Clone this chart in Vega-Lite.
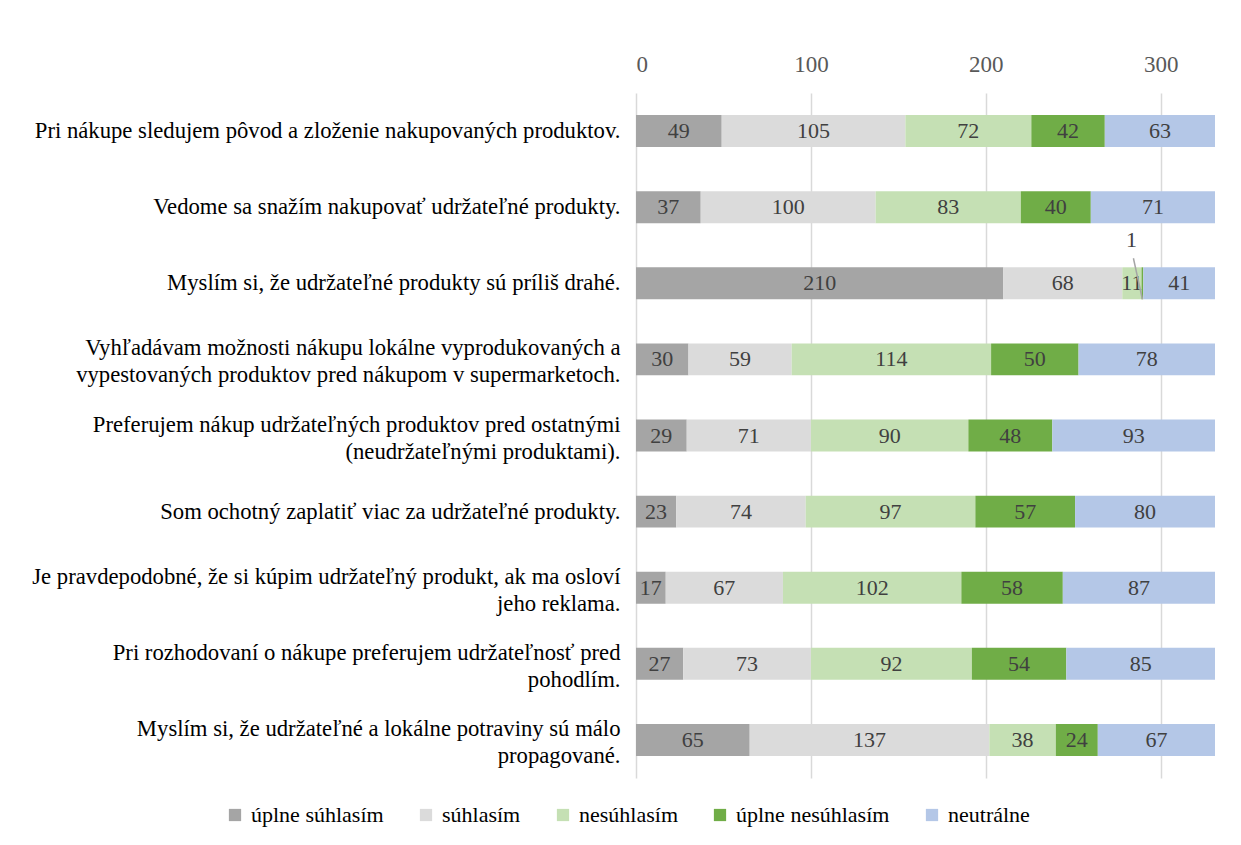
{
  "$schema": "https://vega.github.io/schema/vega-lite/v6.json",
  "width": 579,
  "height": 685,
  "autosize": {"type": "none"},
  "padding": {"left": 636, "top": 93, "right": 26, "bottom": 67},
  "background": "white",
  "config": {
    "view": {"stroke": null},
    "font": "Liberation Serif",
    "axis": {"labelFont": "Liberation Serif"},
    "legend": {"labelFont": "Liberation Serif"},
    "text": {"font": "Liberation Serif"}
  },
  "data": {"values": [
    {"q": "Pri nákupe sledujem pôvod a zloženie nakupovaných produktov.", "qi": 1, "cat": "úplne súhlasím", "o": 1, "v": 49},
    {"q": "Pri nákupe sledujem pôvod a zloženie nakupovaných produktov.", "qi": 1, "cat": "súhlasím", "o": 2, "v": 105},
    {"q": "Pri nákupe sledujem pôvod a zloženie nakupovaných produktov.", "qi": 1, "cat": "nesúhlasím", "o": 3, "v": 72},
    {"q": "Pri nákupe sledujem pôvod a zloženie nakupovaných produktov.", "qi": 1, "cat": "úplne nesúhlasím", "o": 4, "v": 42},
    {"q": "Pri nákupe sledujem pôvod a zloženie nakupovaných produktov.", "qi": 1, "cat": "neutrálne", "o": 5, "v": 63},
    {"q": "Vedome sa snažím nakupovať udržateľné produkty.", "qi": 2, "cat": "úplne súhlasím", "o": 1, "v": 37},
    {"q": "Vedome sa snažím nakupovať udržateľné produkty.", "qi": 2, "cat": "súhlasím", "o": 2, "v": 100},
    {"q": "Vedome sa snažím nakupovať udržateľné produkty.", "qi": 2, "cat": "nesúhlasím", "o": 3, "v": 83},
    {"q": "Vedome sa snažím nakupovať udržateľné produkty.", "qi": 2, "cat": "úplne nesúhlasím", "o": 4, "v": 40},
    {"q": "Vedome sa snažím nakupovať udržateľné produkty.", "qi": 2, "cat": "neutrálne", "o": 5, "v": 71},
    {"q": "Myslím si, že udržateľné produkty sú príliš drahé.", "qi": 3, "cat": "úplne súhlasím", "o": 1, "v": 210},
    {"q": "Myslím si, že udržateľné produkty sú príliš drahé.", "qi": 3, "cat": "súhlasím", "o": 2, "v": 68},
    {"q": "Myslím si, že udržateľné produkty sú príliš drahé.", "qi": 3, "cat": "nesúhlasím", "o": 3, "v": 11},
    {"q": "Myslím si, že udržateľné produkty sú príliš drahé.", "qi": 3, "cat": "úplne nesúhlasím", "o": 4, "v": 1},
    {"q": "Myslím si, že udržateľné produkty sú príliš drahé.", "qi": 3, "cat": "neutrálne", "o": 5, "v": 41},
    {"q": "Vyhľadávam možnosti nákupu lokálne vyprodukovaných a|vypestovaných produktov pred nákupom v supermarketoch.", "qi": 4, "cat": "úplne súhlasím", "o": 1, "v": 30},
    {"q": "Vyhľadávam možnosti nákupu lokálne vyprodukovaných a|vypestovaných produktov pred nákupom v supermarketoch.", "qi": 4, "cat": "súhlasím", "o": 2, "v": 59},
    {"q": "Vyhľadávam možnosti nákupu lokálne vyprodukovaných a|vypestovaných produktov pred nákupom v supermarketoch.", "qi": 4, "cat": "nesúhlasím", "o": 3, "v": 114},
    {"q": "Vyhľadávam možnosti nákupu lokálne vyprodukovaných a|vypestovaných produktov pred nákupom v supermarketoch.", "qi": 4, "cat": "úplne nesúhlasím", "o": 4, "v": 50},
    {"q": "Vyhľadávam možnosti nákupu lokálne vyprodukovaných a|vypestovaných produktov pred nákupom v supermarketoch.", "qi": 4, "cat": "neutrálne", "o": 5, "v": 78},
    {"q": "Preferujem nákup udržateľných produktov pred ostatnými|(neudržateľnými produktami).", "qi": 5, "cat": "úplne súhlasím", "o": 1, "v": 29},
    {"q": "Preferujem nákup udržateľných produktov pred ostatnými|(neudržateľnými produktami).", "qi": 5, "cat": "súhlasím", "o": 2, "v": 71},
    {"q": "Preferujem nákup udržateľných produktov pred ostatnými|(neudržateľnými produktami).", "qi": 5, "cat": "nesúhlasím", "o": 3, "v": 90},
    {"q": "Preferujem nákup udržateľných produktov pred ostatnými|(neudržateľnými produktami).", "qi": 5, "cat": "úplne nesúhlasím", "o": 4, "v": 48},
    {"q": "Preferujem nákup udržateľných produktov pred ostatnými|(neudržateľnými produktami).", "qi": 5, "cat": "neutrálne", "o": 5, "v": 93},
    {"q": "Som ochotný zaplatiť viac za udržateľné produkty.", "qi": 6, "cat": "úplne súhlasím", "o": 1, "v": 23},
    {"q": "Som ochotný zaplatiť viac za udržateľné produkty.", "qi": 6, "cat": "súhlasím", "o": 2, "v": 74},
    {"q": "Som ochotný zaplatiť viac za udržateľné produkty.", "qi": 6, "cat": "nesúhlasím", "o": 3, "v": 97},
    {"q": "Som ochotný zaplatiť viac za udržateľné produkty.", "qi": 6, "cat": "úplne nesúhlasím", "o": 4, "v": 57},
    {"q": "Som ochotný zaplatiť viac za udržateľné produkty.", "qi": 6, "cat": "neutrálne", "o": 5, "v": 80},
    {"q": "Je pravdepodobné, že si kúpim udržateľný produkt, ak ma osloví|jeho reklama.", "qi": 7, "cat": "úplne súhlasím", "o": 1, "v": 17},
    {"q": "Je pravdepodobné, že si kúpim udržateľný produkt, ak ma osloví|jeho reklama.", "qi": 7, "cat": "súhlasím", "o": 2, "v": 67},
    {"q": "Je pravdepodobné, že si kúpim udržateľný produkt, ak ma osloví|jeho reklama.", "qi": 7, "cat": "nesúhlasím", "o": 3, "v": 102},
    {"q": "Je pravdepodobné, že si kúpim udržateľný produkt, ak ma osloví|jeho reklama.", "qi": 7, "cat": "úplne nesúhlasím", "o": 4, "v": 58},
    {"q": "Je pravdepodobné, že si kúpim udržateľný produkt, ak ma osloví|jeho reklama.", "qi": 7, "cat": "neutrálne", "o": 5, "v": 87},
    {"q": "Pri rozhodovaní o nákupe preferujem udržateľnosť pred|pohodlím.", "qi": 8, "cat": "úplne súhlasím", "o": 1, "v": 27},
    {"q": "Pri rozhodovaní o nákupe preferujem udržateľnosť pred|pohodlím.", "qi": 8, "cat": "súhlasím", "o": 2, "v": 73},
    {"q": "Pri rozhodovaní o nákupe preferujem udržateľnosť pred|pohodlím.", "qi": 8, "cat": "nesúhlasím", "o": 3, "v": 92},
    {"q": "Pri rozhodovaní o nákupe preferujem udržateľnosť pred|pohodlím.", "qi": 8, "cat": "úplne nesúhlasím", "o": 4, "v": 54},
    {"q": "Pri rozhodovaní o nákupe preferujem udržateľnosť pred|pohodlím.", "qi": 8, "cat": "neutrálne", "o": 5, "v": 85},
    {"q": "Myslím si, že udržateľné a lokálne potraviny sú málo|propagované.", "qi": 9, "cat": "úplne súhlasím", "o": 1, "v": 65},
    {"q": "Myslím si, že udržateľné a lokálne potraviny sú málo|propagované.", "qi": 9, "cat": "súhlasím", "o": 2, "v": 137},
    {"q": "Myslím si, že udržateľné a lokálne potraviny sú málo|propagované.", "qi": 9, "cat": "nesúhlasím", "o": 3, "v": 38},
    {"q": "Myslím si, že udržateľné a lokálne potraviny sú málo|propagované.", "qi": 9, "cat": "úplne nesúhlasím", "o": 4, "v": 24},
    {"q": "Myslím si, že udržateľné a lokálne potraviny sú málo|propagované.", "qi": 9, "cat": "neutrálne", "o": 5, "v": 67}
  ]},
  "transform": [
    {"stack": "v", "groupby": ["q"], "sort": [{"field": "o", "order": "ascending"}], "as": ["x0", "x1"]},
    {"calculate": "(datum.x0 + datum.x1) / 2", "as": "xm"}
  ],
  "encoding": {
    "y": {
      "field": "q", "type": "nominal",
      "sort": {"field": "qi", "op": "min", "order": "ascending"},
      "scale": {"paddingInner": 0.58, "paddingOuter": 0.29},
      "axis": {
        "title": null, "domain": false, "ticks": false,
        "labelFont": "Liberation Serif",
        "labelFontSize": 22.7, "labelColor": "#000000", "labelPadding": 16,
        "labelLimit": 0, "labelLineHeight": 27,
        "labelOffset": {"condition": {"test": "indexof(datum.value, '|') >= 0", "value": -11}, "value": 0},
        "labelExpr": "split(datum.label, '|')"
      }
    }
  },
  "layer": [
    {
      "mark": {"type": "bar"},
      "encoding": {
        "x": {
          "field": "x0", "type": "quantitative",
          "scale": {"domain": [0, 331], "nice": false, "zero": true},
          "axis": {
            "orient": "top", "title": null, "values": [0, 100, 200, 300],
            "domain": false, "ticks": false, "grid": true, "gridColor": "#D9D9D9", "gridWidth": 1.5,
            "labelFont": "Liberation Serif",
            "labelFontSize": 23, "labelColor": "#595959", "labelPadding": 17
          }
        },
        "x2": {"field": "x1"},
        "color": {
          "field": "cat", "type": "nominal",
          "scale": {
            "domain": ["úplne súhlasím", "súhlasím", "nesúhlasím", "úplne nesúhlasím", "neutrálne"],
            "range": ["#A5A5A5", "#DBDBDB", "#C5E0B4", "#70AD47", "#B4C7E7"]
          },
          "legend": {
            "orient": "none", "direction": "horizontal", "legendX": -412, "legendY": 711,
            "title": null, "symbolType": "square", "symbolSize": 150, "symbolStrokeWidth": 0,
            "labelFont": "Liberation Serif",
            "labelFontSize": 22, "labelColor": "#000000", "columnPadding": 31, "labelOffset": 5
          }
        }
      }
    },
    {
      "transform": [{"filter": "datum.v > 1"}],
      "mark": {"type": "text", "font": "Liberation Serif", "fontSize": 22, "color": "#404040", "baseline": "middle"},
      "encoding": {
        "x": {"field": "xm", "type": "quantitative"},
        "text": {"field": "v", "type": "quantitative"}
      }
    },
    {
      "transform": [{"filter": "datum.v == 1"}],
      "mark": {"type": "text", "font": "Liberation Serif", "fontSize": 22, "color": "#404040", "baseline": "middle", "dx": -11, "dy": -43},
      "encoding": {
        "x": {"field": "xm", "type": "quantitative"},
        "text": {"field": "v", "type": "quantitative"}
      }
    },
    {
      "transform": [{"filter": "datum.v == 1"}],
      "mark": {"type": "rule", "color": "#A5A5A5", "strokeWidth": 1.5, "yOffset": 16, "y2Offset": -25, "x2Offset": -9},
      "encoding": {
        "x": {"field": "xm", "type": "quantitative"},
        "x2": {"field": "xm"},
        "y2": {"field": "q"}
      }
    }
  ]
}
